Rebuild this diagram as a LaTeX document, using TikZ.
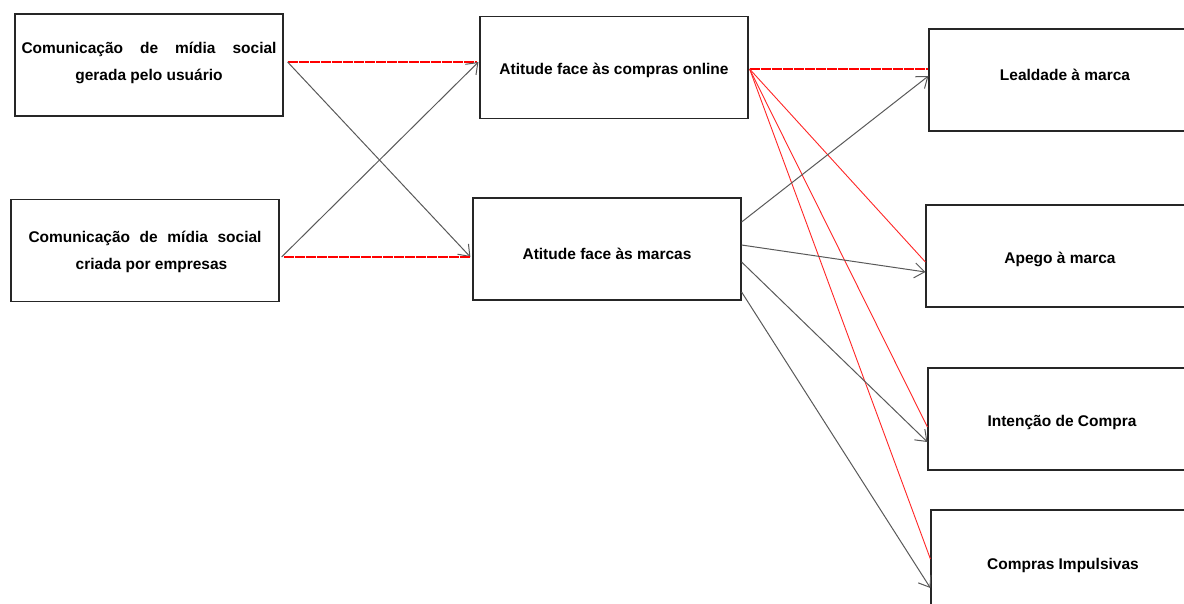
\documentclass[tikz,border=0pt]{standalone}
\usepackage{fontspec}
\setmainfont{Liberation Sans}
\usetikzlibrary{arrows.meta}
\begin{document}
\begin{tikzpicture}[x=1pt,y=-1pt,
 box/.style={draw=black!85, line width=1.2pt, minimum width=268pt, minimum height=102pt, inner sep=0pt},
 lbl/.style={inner sep=0pt, font=\bfseries\fontsize{15.5}{27}\selectfont, align=center},
 grayarrow/.style={draw=black!65, line width=1pt, -{Straight Barb[length=10pt,width=15pt,line width=1pt]}},
 redthick/.style={draw=red, line width=1.7pt, dash pattern=on 10pt off 1pt},
 redthin/.style={draw=red!85, line width=0.9pt},
]
\useasboundingbox (0,0) rectangle (1184,603);
\begin{scope}
\clip (0,0) rectangle (1184,603);
\node[box] (A) at (149,65) {};
\node[box] (B) at (145,250.5) {};
\node[box] (C) at (614,67.5) {};
\node[box] (D) at (607,249) {};
\node[box] (E) at (1063,80) {};
\node[box] (F) at (1060,256) {};
\node[box] (G) at (1062,419) {};
\node[box] (H) at (1065,561) {};

\node[lbl] (tA) at ([yshift=2pt]A.center) {\makebox[255pt][s]{Comunicação\hfill de\hfill mídia\hfill social}\\gerada pelo usuário};
\node[lbl] (tB) at ([yshift=-1.5pt]B.center) {\makebox[233pt][s]{Comunicação\hfill de\hfill mídia\hfill social}\\\hspace*{13pt}criada por empresas};
\node[lbl] (tC) at ([yshift=-3pt]C.center) {Atitude face às compras online};
\node[lbl] (tD) at ([yshift=-5pt]D.center) {Atitude face às marcas};
\node[lbl] (tE) at ([yshift=5pt,xshift=2pt]E.center) {Lealdade à marca};
\node[lbl] (tF) at ([yshift=-3pt]F.center) {Apego à marca};
\node[lbl] (tG) at ([yshift=-3pt]G.center) {Intenção de Compra};
\node[lbl] (tH) at ([yshift=-4pt,xshift=-2pt]H.center) {Compras Impulsivas};

\draw[redthick] ([yshift=3pt,xshift=4pt]A.east) -- ([yshift=5.5pt,xshift=-2pt]C.west);
\draw[grayarrow] ([yshift=3pt,xshift=4pt]A.east) -- ([yshift=-8pt,xshift=-2pt]D.west);
\draw[grayarrow] ([yshift=-6.5pt,xshift=2pt]B.east) -- ([yshift=5.5pt,xshift=-1pt]C.west);
\draw[redthick] ([yshift=-6.5pt,xshift=4pt]B.east) -- ([yshift=-8pt,xshift=-2pt]D.west);

\draw[redthick] ([yshift=-1.5pt,xshift=1pt]C.east) -- ([yshift=11pt]E.west);
\draw[redthin] ([yshift=-1.5pt,xshift=1pt]C.east) -- ([yshift=-6pt]F.west);
\draw[redthin] ([yshift=-1.5pt,xshift=1pt]C.east) -- ([yshift=-8pt]G.west);
\draw[redthin] ([yshift=-1.5pt,xshift=1pt]C.east) -- ([yshift=2pt]H.west);

\draw[grayarrow] ([yshift=27pt]D.east) -- ([yshift=4pt]E.west);
\draw[grayarrow] ([yshift=4pt]D.east) -- ([yshift=-16pt]F.west);
\draw[grayarrow] ([yshift=-13pt]D.east) -- ([yshift=-23pt]G.west);
\draw[grayarrow] ([yshift=-43pt]D.east) -- ([yshift=-27pt]H.west);
\end{scope}
\end{tikzpicture}
\end{document}
